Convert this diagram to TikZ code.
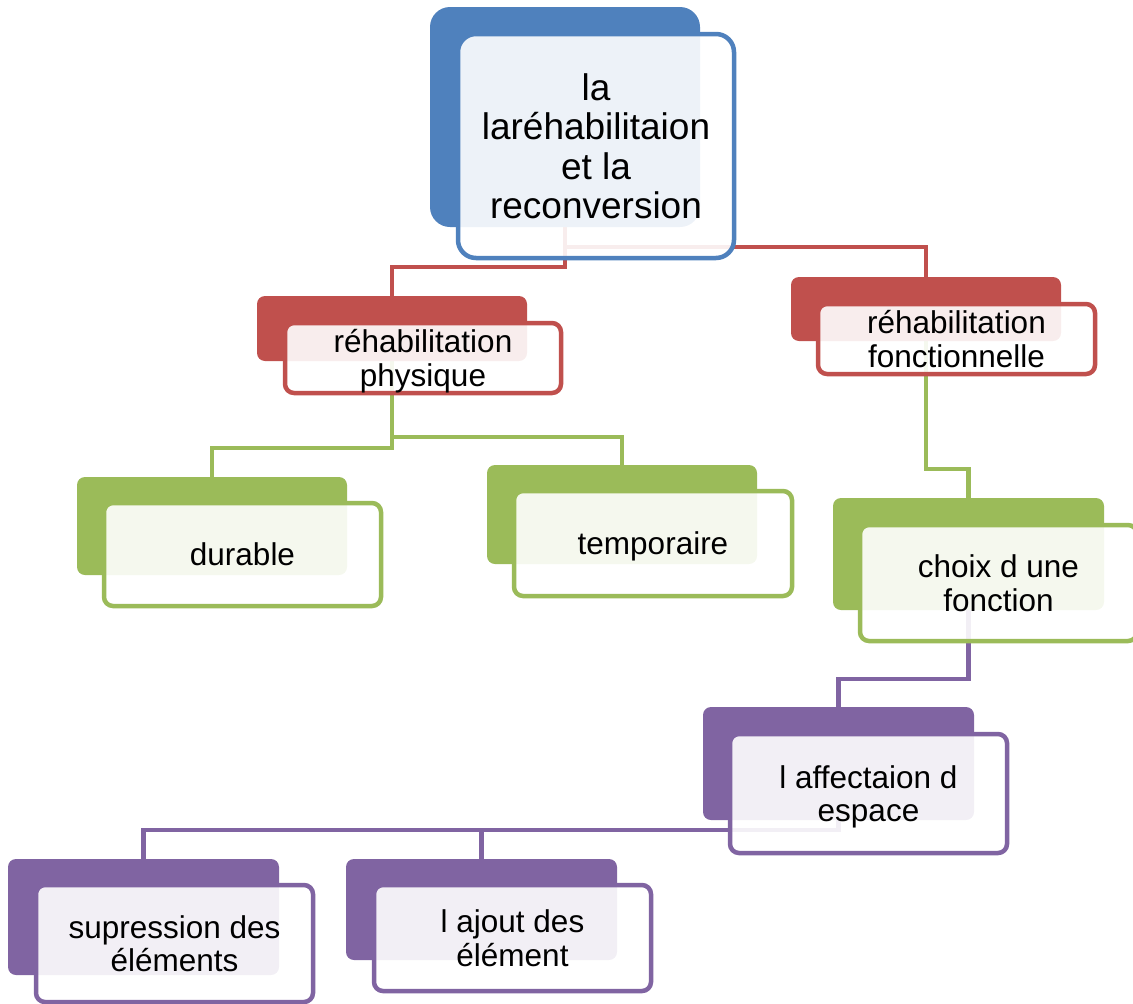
\documentclass[tikz,border=0pt]{standalone}
\usepackage{fontspec}
\setmainfont{Liberation Sans}
\pgfdeclarelayer{bg}
\pgfsetlayers{bg,main}
\definecolor{cblue}{HTML}{4F81BD}
\definecolor{cred}{HTML}{C0504D}
\definecolor{cgreen}{HTML}{9BBB59}
\definecolor{cpurple}{HTML}{8064A2}
\tikzset{
  bk/.style={fill=#1, draw=none, rounded corners=8pt, inner sep=0pt, outer sep=0pt},
  fr/.style={draw=#1, line width=4.5pt, fill=white, fill opacity=0.9, text opacity=1,
    rounded corners=9pt, inner sep=0pt, outer sep=0pt, align=center, text depth=0pt,
    font=\fontsize{31.5}{33.5}\selectfont},
  conn/.style={draw=#1, line width=4.5pt}
}
\begin{document}
\begin{tikzpicture}[x=1pt,y=-1pt]
\useasboundingbox (0,0) rectangle (1133,1004);
\clip (0,0) rectangle (1133,1004);
% root
\node[bk=cblue, rounded corners=20pt, minimum width=270pt, minimum height=220pt] (rootb) at (565,117) {};
\node[fr=cblue, rounded corners=18pt, minimum width=276pt, minimum height=224pt, font=\fontsize{37}{39.5}\selectfont] (root) at (596,146) {la\\laréhabilitaion\\et la\\reconversion};
% red
\node[bk=cred, minimum width=270pt, minimum height=65pt] (r1b) at (392,328.5) {};
\node[fr=cred, minimum width=276pt, minimum height=70pt] (r1) at (423,358) {réhabilitation\\physique};
\node[bk=cred, minimum width=270pt, minimum height=64pt] (r2b) at (926,309) {};
\node[fr=cred, minimum width=277pt, minimum height=70pt] (r2) at (956.5,339) {réhabilitation\\fonctionnelle};
% green
\node[bk=cgreen, minimum width=270pt, minimum height=98pt] (durb) at (212,526) {};
\node[fr=cgreen, minimum width=277pt, minimum height=103pt] (dur) at (242.5,554.5) {durable};
\node[bk=cgreen, minimum width=270pt, minimum height=99pt] (tempb) at (622,514.5) {};
\node[fr=cgreen, minimum width=278pt, minimum height=105pt] (temp) at (653,543.5) {temporaire};
\node[bk=cgreen, minimum width=271pt, minimum height=112pt] (choixb) at (968.5,554) {};
\node[fr=cgreen, minimum width=277pt, minimum height=116pt] (choix) at (998.5,583) {choix d une\\fonction};
% purple
\node[bk=cpurple, minimum width=271pt, minimum height=113pt] (affb) at (838.5,763.5) {};
\node[fr=cpurple, minimum width=277pt, minimum height=119pt] (aff) at (868.5,793.5) {l affectaion d\\espace};
\node[bk=cpurple, minimum width=271pt, minimum height=116pt] (supb) at (143.5,917) {};
\node[fr=cpurple, minimum width=277pt, minimum height=117pt, text depth=-4pt] (sup) at (174.5,943.5) {supression des\\éléments};
\node[bk=cpurple, minimum width=271pt, minimum height=101pt] (ajb) at (481.5,909.5) {};
\node[fr=cpurple, minimum width=277pt, minimum height=106pt, text depth=-4pt] (aj) at (512.5,938) {l ajout des\\élément};
% connectors
\begin{pgfonlayer}{bg}
\draw[conn=cred] (rootb.south) -- (rootb.south |- 0,267) -| (r1b.north);
\draw[conn=cred] (rootb.south |- 0,247) -| (r2b.north);
\draw[conn=cgreen] (r1b.south) -- (r1b.south |- 0,448) -| (durb.north);
\draw[conn=cgreen] (r1b.south |- 0,437) -| (tempb.north);
\draw[conn=cgreen] (r2b.south) -- (r2b.south |- 0,469) -| (choixb.north);
\draw[conn=cpurple] (choixb.south) -- (choixb.south |- 0,679) -| (affb.north);
\draw[conn=cpurple] (affb.south) -- (affb.south |- 0,830) -| (supb.north);
\draw[conn=cpurple] (affb.south |- 0,830) -| (ajb.north);
\end{pgfonlayer}
\end{tikzpicture}
\end{document}
